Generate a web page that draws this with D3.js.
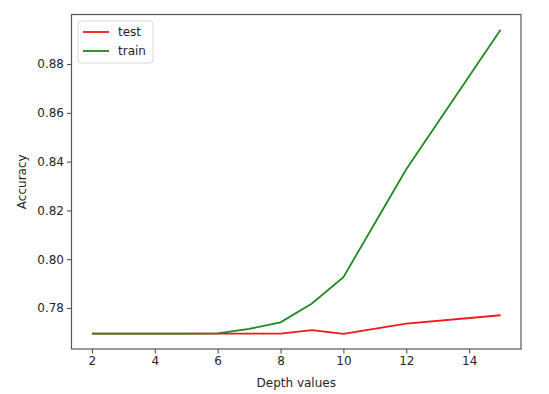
<!DOCTYPE html>
<html>
<head>
<meta charset="utf-8">
<script src="https://cdn.jsdelivr.net/npm/d3@7"></script>
<style>
  body { margin: 0; background: #fff; }
  svg { display: block; font-family: "DejaVu Sans", sans-serif; }
</style>
</head>
<body>
<div id="chart"></div>
<script>
// data
const depths = [2, 3, 4, 5, 6, 7, 8, 9, 10, 12, 15];
const testAcc = [0.7695, 0.7695, 0.7695, 0.7695, 0.7695, 0.7695, 0.7695, 0.7709, 0.7694, 0.7736, 0.7770];
const trainAcc = [0.7695, 0.7695, 0.7695, 0.7695, 0.7696, 0.7714, 0.7741, 0.7818, 0.7926, 0.8369, 0.8941];
const xTicks = [2, 4, 6, 8, 10, 12, 14];
const yTicks = [0.78, 0.80, 0.82, 0.84, 0.86, 0.88];

const W = 549, H = 394;
const margin = { top: 14.5, right: 28, bottom: 45, left: 71.5 };
const width = W - margin.left - margin.right;
const height = H - margin.top - margin.bottom;

const svg = d3.select('#chart').append('svg')
  .attr('width', W)
  .attr('height', H);

const g = svg.append('g')
  .attr('transform', `translate(${margin.left}, ${margin.top})`);

// matplotlib style 5% margins
const xPad = (d3.max(depths) - d3.min(depths)) * 0.05;
const allY = testAcc.concat(trainAcc);
const yPad = (d3.max(allY) - d3.min(allY)) * 0.05;

const x = d3.scaleLinear()
  .domain([d3.min(depths) - xPad, d3.max(depths) + xPad])
  .range([0, width]);
const y = d3.scaleLinear()
  .domain([d3.min(allY) - yPad, d3.max(allY) + yPad])
  .range([height, 0]);

// axes
const xAxis = g.append('g')
  .attr('transform', `translate(0, ${height})`)
  .call(d3.axisBottom(x).tickValues(xTicks).tickFormat(d3.format('d')).tickSize(4.5).tickPadding(3));
const yAxis = g.append('g')
  .call(d3.axisLeft(y).tickValues(yTicks).tickFormat(d3.format('.2f')).tickSize(4.5).tickPadding(3));

[xAxis, yAxis].forEach(a => {
  a.select('.domain').remove();
  a.selectAll('.tick line').attr('stroke', '#444').attr('stroke-width', 1);
  a.selectAll('.tick text')
    .attr('fill', '#262626')
    .style('font-size', '12px')
    .style('font-family', '"DejaVu Sans", sans-serif');
});

// frame
g.append('rect')
  .attr('width', width)
  .attr('height', height)
  .attr('fill', 'none')
  .attr('stroke', '#555')
  .attr('stroke-width', 1.2);

const line = (vals) => d3.line()
  .x((d, i) => x(depths[i]))
  .y(d => y(d))(vals);

g.append('path')
  .attr('d', line(testAcc))
  .attr('fill', 'none')
  .attr('stroke', '#f01818')
  .attr('stroke-width', 1.8);

g.append('path')
  .attr('d', line(trainAcc))
  .attr('fill', 'none')
  .attr('stroke', '#1f8a1f')
  .attr('stroke-width', 1.8);

// axis labels
svg.append('text')
  .attr('x', margin.left + width / 2)
  .attr('y', 387)
  .attr('text-anchor', 'middle')
  .attr('fill', '#262626')
  .style('font-size', '12px')
  .text('Depth values');

svg.append('text')
  .attr('transform', `translate(26, ${margin.top + height / 2}) rotate(-90)`)
  .attr('text-anchor', 'middle')
  .attr('fill', '#262626')
  .style('font-size', '12px')
  .text('Accuracy');

// legend
const legend = svg.append('g').attr('transform', 'translate(78, 21)');
legend.append('rect')
  .attr('width', 75)
  .attr('height', 42)
  .attr('rx', 3)
  .attr('fill', 'rgba(255,255,255,0.8)')
  .attr('stroke', '#d6d6d6');

const legendItems = [
  { name: 'test', color: '#f01818' },
  { name: 'train', color: '#1f8a1f' }
];
legendItems.forEach((it, i) => {
  const yy = 11 + i * 19;
  legend.append('line')
    .attr('x1', 5).attr('x2', 31)
    .attr('y1', yy).attr('y2', yy)
    .attr('stroke', it.color)
    .attr('stroke-width', 1.8);
  legend.append('text')
    .attr('x', 40)
    .attr('y', yy + 4.3)
    .attr('fill', '#262626')
    .style('font-size', '12px')
    .text(it.name);
});
</script>
</body>
</html>
